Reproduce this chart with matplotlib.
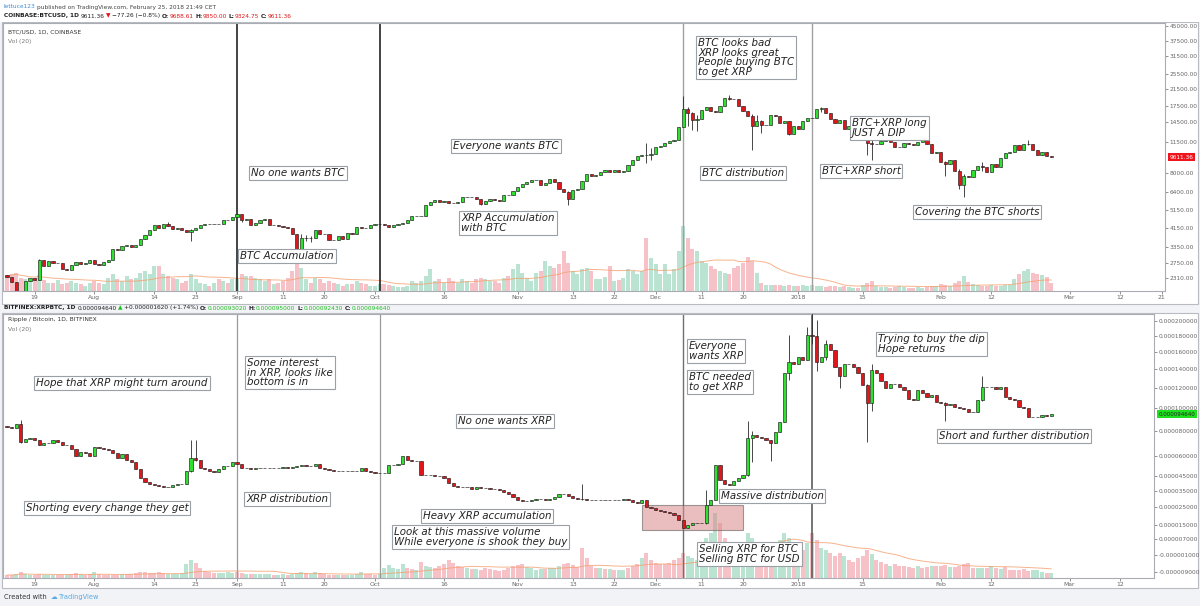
import numpy as np
import pandas as pd
import matplotlib
matplotlib.use("Agg")
import matplotlib.pyplot as plt
import matplotlib.dates as mdates
from matplotlib.patches import Rectangle
from matplotlib.ticker import NullLocator

W, H = 1200, 606

# ---------------- data ----------------
start = "2017-07-13"

# BTC/USD daily closes (Coinbase)
btc_open0 = 2390
btc_close = [
    2340, 2210, 1960, 1930, 2230, 2320, 2270, 2870, 2670, 2830, 2760, 2760, 2580, 2550, 2690, 2800, 2720, 2750, 2870,
    2730, 2690, 2800, 2870, 3250, 3220, 3390, 3420, 3340, 3420, 3650, 3850, 4060, 4320, 4160, 4380, 4280, 4110, 4150,
    4060, 3990, 4090, 4150, 4330, 4370, 4350, 4390, 4380, 4580, 4570, 4740,
    4900, 4580, 4620, 4340, 4430, 4610, 4620, 4320, 4330, 4250, 4210, 4170, 3880, 3240, 3700, 3700, 3690, 4100, 3910,
    3880, 3620, 3610, 3790, 3660, 3930, 3890, 4210, 4190, 4160, 4340,
    4400, 4400, 4310, 4230, 4330, 4370, 4440, 4610, 4780, 4780, 4820, 5440, 5640, 5820, 5700, 5750, 5600, 5580, 5690,
    5990, 6020, 5990, 5900, 5520, 5730, 5890, 5770, 5750, 6150, 6130, 6450,
    6740, 7030, 7160, 7380, 7380, 6960, 7120, 7440, 7130, 6570, 6350, 5860, 6540, 6600, 7280, 7850, 7700, 7780, 8040,
    8240, 8100, 8230, 8020, 8200, 8750, 9320, 9730, 9890, 9830, 9950,
    10850, 10910, 11280, 11620, 11680, 13750, 16850, 16050, 14840, 15060, 16730, 17280, 16480, 16400, 17600, 19170,
    19040, 18960, 17610, 16450, 15630, 13830, 14700, 13950, 13950, 15780, 15500, 14400, 14620, 12640, 13880,
    13440, 14750, 15160, 15180, 16950, 17100, 16200, 15000, 14400, 14900, 13300, 13800, 14200, 13600, 13600, 11400,
    11150, 11250, 11580, 12770, 11530, 10780, 10860, 11380, 11150, 11100, 11420, 11760, 11200, 10100, 10240,
    9100, 8880, 9250, 8200, 6950, 7700, 7600, 8260, 8690, 8540, 8070, 8900, 8540, 9480, 10050, 10170, 11100, 10400,
    11150, 11230, 10460, 9830, 10150, 9690, 9611.36,
]
btc_vol = [
    15, 17, 18, 13, 12, 10, 13, 16, 11, 8, 8, 11, 7, 8, 10, 8, 7, 5, 8,
    10, 8, 7, 13, 17, 12, 10, 15, 12, 13, 18, 20, 17, 25, 25, 17, 15, 13, 12, 8, 10, 17, 12, 8, 7, 5, 8, 12, 10, 8, 12,
    12, 17, 15, 15, 13, 12, 10, 12, 7, 8, 10, 13, 20, 27, 23, 12, 8, 13, 12, 8, 10, 8, 7, 5, 7, 7, 10, 8, 7, 5,
    5, 7, 7, 6, 5, 4, 4, 5, 10, 8, 10, 15, 22, 10, 12, 8, 13, 10, 8, 12, 10, 8, 12, 13, 12, 10, 10, 8, 13, 15, 22,
    27, 18, 13, 10, 18, 20, 30, 25, 23, 27, 40, 28, 20, 17, 22, 23, 20, 12, 12, 14, 25, 10, 11, 13, 22, 20, 17, 20, 53, 33,
    27, 17, 27, 17, 22, 40, 65, 53, 42, 40, 30, 28, 25, 22, 20, 18, 17, 23, 25, 28, 34, 30, 18, 8, 6, 6, 6, 6, 5, 6, 5,
    5, 6, 5, 6, 5, 5, 4, 5, 5, 4, 5, 4, 3, 3, 6, 8, 10, 5, 4, 4, 3, 4, 5, 4, 3, 3, 4, 3, 4, 5, 5,
    7, 6, 5, 8, 10, 15, 9, 7, 6, 5, 5, 6, 5, 5, 6, 6, 12, 17, 20, 22, 18, 17, 16, 14, 8,
]
btc_wicks = {  # date: (high, low)
    "2017-07-16": (1990, 1840), "2017-07-20": (2900, 2260), "2017-08-17": (4480, 4260),
    "2017-08-22": (4140, 3600), "2017-09-02": (4940, 4480), "2017-09-15": (3880, 2980),
    "2017-09-16": (3850, 3600), "2017-09-17": (3800, 3550), "2017-10-24": (5890, 5450),
    "2017-11-12": (6480, 5500), "2017-11-29": (11400, 9000), "2017-11-30": (10700, 9300),
    "2017-12-07": (19700, 13750), "2017-12-08": (17300, 13800), "2017-12-09": (16300, 13200),
    "2017-12-10": (15700, 13100), "2017-12-17": (19891, 18800), "2017-12-22": (15900, 10400),
    "2017-12-23": (15800, 13830), "2017-12-24": (14900, 12700), "2017-12-30": (14700, 12400),
    "2018-01-06": (17250, 16300), "2018-01-16": (13700, 9900), "2018-01-17": (11900, 9300),
    "2018-02-02": (9150, 7700), "2018-02-05": (8400, 6600), "2018-02-06": (7850, 6000),
    "2018-02-10": (9100, 8200), "2018-02-20": (11780, 11100),
}

# XRP/BTC daily closes (Bitfinex), in 1e-6 BTC
xrp_open0 = 84
xrp_close = [
    83, 82, 86, 71, 73, 74, 72, 68, 70, 70, 72, 71, 68, 68, 65, 60, 63, 62, 60,
    67, 66, 65, 64, 62, 58, 61, 57, 55, 50, 44, 41, 40, 39, 38.5, 38, 38, 39, 40, 40, 49, 58, 57, 51, 50, 49, 48, 50,
    52, 52.5, 55,
    54, 51, 51, 50, 50.5, 50.5, 51, 51, 50.5, 51, 51.5, 51, 51.5, 52, 53, 52, 52.5, 54, 51, 50, 49.5, 49, 49, 48.5,
    48.5, 48.5, 49, 51, 49, 48,
    47, 47, 47.5, 53, 53, 53.5, 60, 57, 56, 56, 46, 46, 46, 45.5, 45, 43.6, 40.2, 38.5, 38, 37.5, 37.5, 36.5, 38, 37,
    36.8, 36.6, 36.5, 36, 34.5, 33, 31.5,
    29.5, 28.8, 29, 29.2, 29.8, 30, 29.7, 30.3, 31.5, 33.5, 33.2, 32, 30.5, 30.2, 29.8, 29.7, 29.6, 29.5, 29.6, 29.4,
    29.5, 29.3, 29.4, 30, 29.3, 28.4, 27.4, 29.4, 25.3, 24.3,
    23.5, 23, 22.3, 21.3, 20.4, 17.5, 12.9, 14.8, 15.6, 15.6, 15.6, 26.4, 29.4, 53, 42.5, 40, 39, 42, 44, 46, 73.6,
    76.5, 75, 73.6, 72, 69.5, 79, 87.7, 135.4, 148.5, 145.5,
    154, 151, 181, 180, 148.5, 154.3, 170, 162, 143, 132, 146, 145.5, 142.8, 135.4, 123, 104.6, 139, 136, 127, 119.5,
    124.5, 124, 120.5, 117.5, 109, 107.8, 117.5, 114.4, 111, 112.5, 106,
    104.6, 103.5, 104, 101, 99.8, 99.5, 96.7, 96.5, 107.8, 121, 120.5, 120.5, 118.5, 121, 111, 109, 107.8, 101, 100,
    92, 92, 92.2, 93.7, 93.02, 94.64,
]
xrp_vol = [
    3, 3, 4, 6, 4, 3, 3, 4, 3, 3, 3, 3, 3, 3, 4, 5, 4, 3, 4,
    6, 4, 3, 3, 3, 3, 4, 4, 4, 5, 6, 6, 5, 5, 6, 5, 4, 4, 4, 5, 14, 18, 15, 10, 7, 6, 5, 5, 5, 6, 5,
    6, 5, 4, 4, 4, 4, 4, 4, 3, 3, 4, 3, 4, 5, 6, 5, 4, 6, 5, 4, 3, 3, 3, 3, 3, 3, 4, 6, 4, 4,
    3, 4, 10, 13, 10, 9, 14, 10, 9, 8, 16, 12, 11, 10, 12, 14, 18, 15, 12, 11, 10, 9, 9, 8, 10, 9, 8, 7, 8, 10, 12,
    13, 14, 11, 10, 8, 9, 9, 10, 10, 12, 14, 15, 13, 11, 30, 20, 12, 10, 10, 9, 9, 8, 8, 8, 10, 12, 14, 20, 25, 18,
    15, 14, 14, 15, 18, 20, 25, 22, 20, 18, 22, 40, 45, 65, 55, 40, 30, 30, 32, 35, 45, 40, 35, 30, 35, 30, 32, 38, 45, 40, 35,
    30, 28, 35, 45, 38, 30, 28, 25, 22, 25, 22, 18, 16, 20, 22, 28, 24, 18, 16, 14, 12, 14, 12, 12, 11, 10, 12, 10, 11, 12, 12,
    12, 13, 11, 11, 12, 14, 15, 10, 10, 10, 10, 12, 10, 9, 11, 8, 8, 8, 9, 7, 8, 8, 6, 5, 5,
]
xrp_wicks = {
    "2017-07-16": (89, 70), "2017-08-22": (72, 48), "2017-08-23": (72, 56), "2017-11-15": (40, 29.5),
    "2017-12-12": (36, 15.5), "2017-12-21": (88, 45), "2017-12-22": (80, 55), "2017-12-26": (72, 56),
    "2017-12-30": (181, 128), "2018-01-03": (192, 150), "2018-01-04": (211, 170), "2018-01-05": (201, 138),
    "2018-01-07": (175, 150), "2018-01-10": (140, 120), "2018-01-16": (124, 71), "2018-01-17": (146, 97),
    "2018-02-02": (106, 88), "2018-02-10": (133, 107),
}

tick_dates = ["2017-07-19", "2017-08-01", "2017-08-14", "2017-08-23", "2017-09-01", "2017-09-11", "2017-09-20",
              "2017-10-01", "2017-10-16", "2017-11-01", "2017-11-13", "2017-11-22", "2017-12-01", "2017-12-11",
              "2017-12-20", "2018-01-01", "2018-01-15", "2018-02-01", "2018-02-12", "2018-03-01", "2018-03-12",
              "2018-03-21"]
tick_labels = ["19", "Aug", "14", "23", "Sep", "11", "20", "Oct", "16", "Nov", "13", "22", "Dec", "11", "20",
               "2018", "15", "Feb", "12", "Mar", "12", "21"]

btc_price_ticks = [2310, 2750, 3350, 4150, 5150, 6400, 8000, 11500, 14500, 17500, 21500, 25500, 31500, 37500, 45000]
xrp_price_ticks = [-0.000009, -0.000001, 0.000007, 0.000015, 0.000025, 0.000035, 0.000045, 0.00006, 0.00008,
                   0.0001, 0.00012, 0.00014, 0.00016, 0.00018, 0.0002]

event_lines = ["2017-09-01", "2017-10-02", "2017-12-07", "2018-01-04"]
box_dates = ("2017-11-28", "2017-12-20")
box_prices = (11.9e-6, 26.3e-6)

UP, DOWN = "#2fe02f", "#e0161b"
VUP, VDOWN = "#a3dac3", "#f5aeb5"


def px(x, y):
    return x / W, 1 - y / H


def ohlc(open0, closes, wicks, scale=1.0):
    c = np.array(closes, dtype=float) * scale
    o = np.concatenate([[open0 * scale], c[:-1]])
    hi = np.maximum(o, c)
    lo = np.minimum(o, c)
    dates = pd.date_range(start, periods=len(c), freq="D")
    for d, (h, l) in wicks.items():
        i = dates.get_loc(pd.Timestamp(d))
        hi[i] = max(hi[i], h * scale)
        lo[i] = min(lo[i], l * scale)
    return dates, o, hi, lo, c


def draw(ax, dates, o, hi, lo, c, vol, vmax, line_styles):
    x = mdates.date2num(dates)
    up = c >= o
    axv = ax.twinx()
    axv.bar(x, vol, width=0.9, color=np.where(up, VUP, VDOWN), alpha=0.75, zorder=1)
    ma = pd.Series(vol, dtype=float).rolling(20, min_periods=1).mean()
    axv.plot(x, ma, color="#f5a070", lw=0.7, alpha=0.8)
    axv.set_ylim(0, vmax)
    axv.set_yticks([])
    for s in axv.spines.values():
        s.set_visible(False)
    ax.set_zorder(axv.get_zorder() + 1)
    ax.patch.set_visible(False)
    for d, (col, lw) in zip(event_lines, line_styles):
        ax.axvline(mdates.date2num(pd.Timestamp(d)), color=col, lw=lw, zorder=1)
    ax.vlines(x, lo, hi, color="#2a2a2a", lw=0.6, zorder=3)
    ax.bar(x, np.abs(c - o), bottom=np.minimum(o, c), width=0.72,
           color=np.where(up, UP, DOWN), edgecolor="#1e1e1e", linewidth=0.45, zorder=4)
    return axv


def style_axes(ax, right_px):
    for s in ax.spines.values():
        s.set_color("#a9acb3")
        s.set_linewidth(0.8)
    ax.yaxis.tick_right()
    ax.yaxis.set_minor_locator(NullLocator())
    ax.tick_params(axis="y", labelsize=4.2, colors="#666", length=2, pad=1.5, width=0.5)
    ax.tick_params(axis="x", labelsize=4.4, colors="#666", length=2, pad=1.2, width=0.5)
    t0 = mdates.date2num(pd.Timestamp(start))
    ax.set_xlim(t0 - 4 / 4.6, t0 + (right_px - 7) / 4.6)


fig = plt.figure(figsize=(W / 100, H / 100), dpi=100)
fig.patch.set_facecolor("#f1f3f6")

# frames around both charts (pane + scales)
fig.add_artist(Rectangle(px(2, 304), 1196 / W, 282 / H, transform=fig.transFigure,
                         fc="white", ec="#b8bbc2", lw=0.8, zorder=0))
fig.add_artist(Rectangle(px(2, 588), 1196 / W, 275 / H, transform=fig.transFigure,
                         fc="white", ec="#b8bbc2", lw=0.8, zorder=0))
fig.add_artist(Rectangle(px(0, 22), 1, 22 / H, transform=fig.transFigure, fc="white", ec="none", zorder=0))

# ---------------- top: BTC/USD ----------------
ax1 = fig.add_axes([3 / W, 1 - 291 / H, 1162 / W, 268 / H])
d1, o1, h1, l1, c1 = ohlc(btc_open0, btc_close, btc_wicks)
draw(ax1, d1, o1, h1, l1, c1, btc_vol, 268,
     [("#222", 1.2), ("#222", 1.2), ("#a0a0a0", 1.0), ("#a0a0a0", 1.0)])
ax1.set_yscale("log")
ax1.set_ylim(1990, 46500)
style_axes(ax1, 1165)
ax1.set_yticks(btc_price_ticks)
ax1.set_yticklabels([f"{v:.2f}" for v in btc_price_ticks])
ax1.yaxis.set_minor_locator(NullLocator())
ax1.set_xticks([mdates.date2num(pd.Timestamp(t)) for t in tick_dates])
ax1.set_xticklabels(tick_labels)
ax1.text(1.004, c1[-1], f"{c1[-1]:.2f}", transform=ax1.get_yaxis_transform(), fontsize=4.2, color="white",
         va="center", ha="left", bbox=dict(boxstyle="square,pad=0.25", fc="#f0141c", ec="none"), zorder=10,
         clip_on=False)

# ---------------- bottom: XRP/BTC ----------------
C = 1.1e-4
ax2 = fig.add_axes([3 / W, 1 - 578 / H, 1151 / W, 264 / H])
d2, o2, h2, l2, c2 = ohlc(xrp_open0, xrp_close, xrp_wicks, scale=1e-6)
draw(ax2, d2, o2, h2, l2, c2, xrp_vol, 264,
     [("#9a9a9a", 0.9), ("#9a9a9a", 0.9), ("#707070", 1.0), ("#505050", 1.1)])
ax2.set_yscale("function", functions=(lambda v: np.log(np.maximum(v + C, 1e-9)), lambda v: np.exp(v) - C))
ax2.set_ylim(-1.155e-5, 2.0985e-4)
style_axes(ax2, 1154)
ax2.set_yticks(xrp_price_ticks)
ax2.set_yticklabels([f"{v:.9f}" for v in xrp_price_ticks])
ax2.yaxis.set_minor_locator(NullLocator())
ax2.set_xticks([mdates.date2num(pd.Timestamp(t)) for t in tick_dates[:-1]])
ax2.set_xticklabels(tick_labels[:-1])
ax2.text(1.004, c2[-1], f"{c2[-1]:.9f}", transform=ax2.get_yaxis_transform(), fontsize=4.0, color="#222",
         va="center", ha="left", bbox=dict(boxstyle="square,pad=0.25", fc="#1fe01f", ec="none"), zorder=10,
         clip_on=False)
bx0, bx1 = [mdates.date2num(pd.Timestamp(d)) for d in box_dates]
ax2.add_patch(Rectangle((bx0, box_prices[0]), bx1 - bx0, box_prices[1] - box_prices[0],
                        fc="#d98a8a", ec="#555", lw=0.8, alpha=0.55, zorder=2))

# ---------------- header / legend texts ----------------
renderer = fig.canvas.get_renderer()


def seq(x, y, parts, size):
    # parts: (text, colour, weight, gap after in px)
    for s, col, wt, gap in parts:
        t = fig.text(*px(x, y), s, color=col, fontsize=size, fontweight=wt, va="center", ha="left")
        x += t.get_window_extent(renderer=renderer).width + gap


K, R, G = "#222", "#e0161b", "#1fbf1f"
seq(4, 7, [("lettuce123", "#3c8fd6", "normal", 1.5),
           ("published on TradingView.com, February 25, 2018 21:49 CET", "#444", "normal", 0)], 4.2)
seq(4, 16, [("COINBASE:BTCUSD, 1D", K, "bold", 2), ("9611.36", K, "normal", 1.5), ("▼", R, "normal", 1),
            ("\u221277.26 (\u22120.8%)", K, "normal", 2), ("O:", K, "bold", 0), ("9688.61", R, "normal", 2),
            ("H:", K, "bold", 0), ("9850.00", R, "normal", 2), ("L:", K, "bold", 0),
            ("9324.75", R, "normal", 2), ("C:", K, "bold", 0), ("9611.36", R, "normal", 0)], 4.2)
seq(4, 308, [("BITFINEX:XRPBTC, 1D", K, "bold", 2), ("0.000094640", K, "normal", 1.5), ("▲", G, "normal", 1),
             ("+0.000001620 (+1.74%)", K, "normal", 2), ("O:", K, "bold", 0),
             ("0.000093020", G, "normal", 2), ("H:", K, "bold", 0), ("0.000095000", G, "normal", 2),
             ("L:", K, "bold", 0), ("0.000092430", G, "normal", 2), ("C:", K, "bold", 0),
             ("0.000094640", G, "normal", 0)], 4.2)
fig.text(*px(8, 32), "BTC/USD, 1D, COINBASE", fontsize=4.3, color="#333", va="center")
fig.text(*px(8, 42), "Vol (20)", fontsize=4.3, color="#777", va="center")
fig.text(*px(8, 320), "Ripple / Bitcoin, 1D, BITFINEX", fontsize=4.3, color="#333", va="center")
fig.text(*px(8, 330), "Vol (20)", fontsize=4.3, color="#777", va="center")
seq(4, 597, [("Created with", "#333", "normal", 4), ("\u2601", "#5aa9e6", "normal", 2),
             ("TradingView", "#5aa9e6", "normal", 0)], 4.8)


# ---------------- annotations ----------------
def note(x, y, s, ha="center", va="center"):
    fig.text(*px(x, y), s, ha=ha, va=va, fontsize=7.4, fontstyle="italic", color="#222", linespacing=0.95,
             bbox=dict(boxstyle="square,pad=0.2", fc="white", ec="#9aa0a6", lw=0.8), zorder=20)


note(298, 173, "No one wants BTC")
note(287, 256, "BTC Accumulation")
note(506, 146, "Everyone wants BTC")
note(461, 213, "XRP Accumulation\nwith BTC", ha="left", va="top")
note(698, 38, "BTC looks bad\nXRP looks great\nPeople buying BTC\nto get XRP", ha="left", va="top")
note(743, 173, "BTC distribution")
note(852, 118, "BTC+XRP long\nJUST A DIP", ha="left", va="top")
note(861, 171, "BTC+XRP short")
note(977, 212, "Covering the BTC shorts")

note(122, 383, "Hope that XRP might turn around")
note(107, 508, "Shorting every change they get")
note(247, 358, "Some interest\nin XRP, looks like\nbottom is in", ha="left", va="top")
note(287, 499, "XRP distribution")
note(505, 421, "No one wants XRP")
note(487, 516, "Heavy XRP accumulation")
note(394, 527, "Look at this massive volume\nWhile everyone is shook they buy", ha="left", va="top")
note(689, 341, "Everyone\nwants XRP", ha="left", va="top")
note(689, 372, "BTC needed\nto get XRP", ha="left", va="top")
note(772, 496, "Massive distribution")
note(699, 544, "Selling XRP for BTC\nSelling BTC for USD", ha="left", va="top")
note(878, 334, "Trying to buy the dip\nHope returns", ha="left", va="top")
note(1014, 436, "Short and further distribution")

fig.savefig("out.png", dpi=100, facecolor=fig.get_facecolor())
